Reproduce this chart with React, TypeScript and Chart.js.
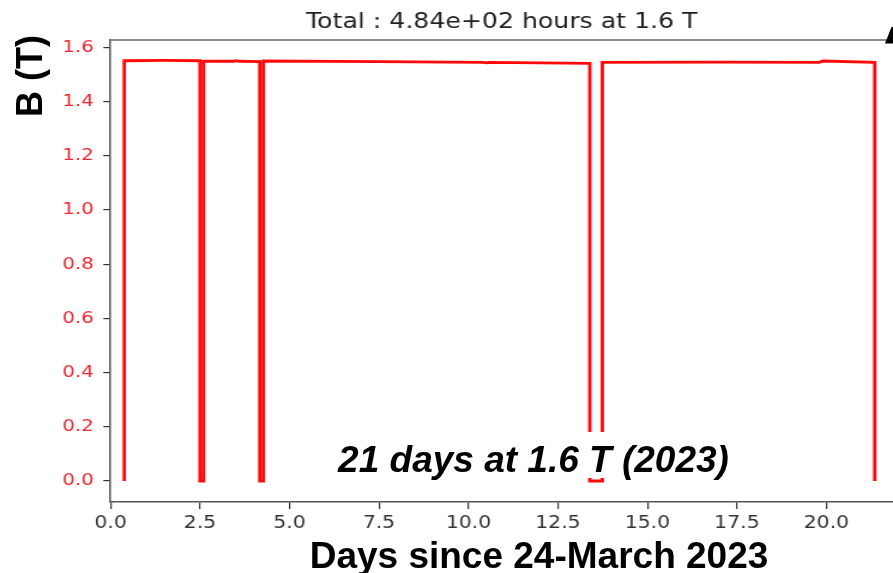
import React, { useEffect, useRef } from "react";
import { Chart, registerables } from "chart.js";

Chart.register(...registerables);

// ---- data ----
const days = [0.385, 0.385, 1.5, 2.5, 2.5, 2.6, 2.6, 3.45, 3.5, 3.6, 4.17, 4.17, 4.27, 4.27, 7.5, 10.4, 10.5, 10.6, 13.39, 13.39, 13.74, 13.74, 17.0, 19.8, 19.9, 21.35, 21.35];
const fieldT = [0, 1.551, 1.552, 1.551, 0, 0, 1.549, 1.549, 1.551, 1.549, 1.548, 0, 0, 1.55, 1.548, 1.545, 1.543, 1.545, 1.541, 0, 0, 1.545, 1.546, 1.545, 1.55, 1.545, 0];
const xTicks = [0, 2.5, 5, 7.5, 10, 12.5, 15, 17.5, 20];
const yTicks = [0, 0.2, 0.4, 0.6, 0.8, 1.0, 1.2, 1.4, 1.6];
const titleText = "Total : 4.84e+02 hours at 1.6 T";
const yTitle = "B (T)";
const xTitle = "Days since 24-March 2023";
const note = "21 days at 1.6 T (2023)";

const W = 893;
const H = 573;
const CW = 745; // canvas width before horizontal stretch
const SX = W / CW;

const decor = {
  id: "decor",
  afterDraw(chart: any) {
    const { ctx, chartArea: a } = chart;
    ctx.save();
    ctx.strokeStyle = "#666";
    ctx.lineWidth = 1.5;
    ctx.beginPath();
    ctx.moveTo(a.left, a.top);
    ctx.lineTo(a.right, a.top);
    ctx.stroke();
    ctx.fillStyle = "#222";
    ctx.font = '21px "DejaVu Sans"';
    ctx.textAlign = "center";
    ctx.textBaseline = "alphabetic";
    ctx.fillText(titleText, (a.left + a.right) / 2, 28);
    ctx.restore();
  },
};

export default function App() {
  const ref = useRef<HTMLCanvasElement>(null);
  useEffect(() => {
    if (!ref.current) return;
    const chart = new Chart(ref.current, {
      type: "line",
      data: {
        datasets: [
          {
            data: days.map((d, i) => ({ x: d, y: fieldT[i] })),
            borderColor: "rgb(255,8,8)",
            borderWidth: 2.8,
            pointRadius: 0,
            tension: 0,
            fill: false,
          },
        ],
      },
      options: {
        animation: false,
        responsive: false,
        devicePixelRatio: 1,
        layout: { padding: { top: 40, left: 0, right: 0, bottom: 0 } },
        plugins: { legend: { display: false }, tooltip: { enabled: false }, title: { display: false } },
        scales: {
          x: {
            type: "linear",
            position: "bottom",
            min: 0,
            max: 21.86,
            afterBuildTicks: (s: any) => {
              s.ticks = xTicks.map((value) => ({ value }));
            },
            afterFit: (s: any) => {
              s.height = H - 502;
            },
            grid: { drawOnChartArea: false, drawTicks: true, tickLength: 7, color: "#333", lineWidth: 1.2 },
            border: { display: true, color: "#555", width: 1.5 },
            ticks: {
              color: "#333",
              font: { family: "DejaVu Sans", size: 17 },
              padding: 4,
              maxRotation: 0,
              autoSkip: false,
              callback: (v: any) => Number(v).toFixed(1),
            },
          },
          y: {
            type: "linear",
            min: -0.0775,
            max: 1.6275,
            afterBuildTicks: (s: any) => {
              s.ticks = yTicks.map((value) => ({ value }));
            },
            afterFit: (s: any) => {
              s.width = 110.5 / SX;
            },
            grid: { drawOnChartArea: false, drawTicks: true, tickLength: 6, color: "#333", lineWidth: 1.2 },
            border: { display: true, color: "#555", width: 1.5 },
            ticks: {
              color: "#ee2530",
              font: { family: "DejaVu Sans", size: 16.5 },
              padding: 8,
              autoSkip: false,
              callback: (v: any) => Number(v).toFixed(1),
            },
          },
        },
      },
      plugins: [decor],
    });
    return () => chart.destroy();
  }, []);

  const bold: React.CSSProperties = {
    position: "absolute",
    fontFamily: '"Liberation Sans", Arial, sans-serif',
    fontWeight: "bold",
    fontSize: 36,
    lineHeight: 1,
    whiteSpace: "nowrap",
    color: "#000",
  };

  return (
    <div style={{ position: "absolute", left: 0, top: 0, width: W, height: H, overflow: "hidden", background: "#fff" }}>
      <div style={{ position: "absolute", left: 0, top: 0, width: CW, height: H, transform: `scaleX(${SX})`, transformOrigin: "0 0" }}>
        <canvas ref={ref} width={CW} height={H} style={{ display: "block" }} />
      </div>
      <div style={{ ...bold, left: 30, top: 76, transform: "translate(-50%,-50%) rotate(-90deg)" }}>{yTitle}</div>
      <div style={{ ...bold, fontSize: 37, left: 539, top: 555, transform: "translate(-50%,-50%)" }}>{xTitle}</div>
      <div
        style={{
          ...bold,
          fontSize: 37,
          fontStyle: "italic",
          left: 533.5,
          top: 432,
          transform: "translateX(-50%)",
          padding: "9px 4px 0 4px",
          background: "#fff",
        }}
      >
        {note}
      </div>
      <svg style={{ position: "absolute", left: 0, top: 0 }} width={W} height={H} viewBox={`0 0 ${W} ${H}`}>
        <polygon points="885,43.5 891.5,27 893,27 893,43.5" fill="#000" />
      </svg>
    </div>
  );
}
